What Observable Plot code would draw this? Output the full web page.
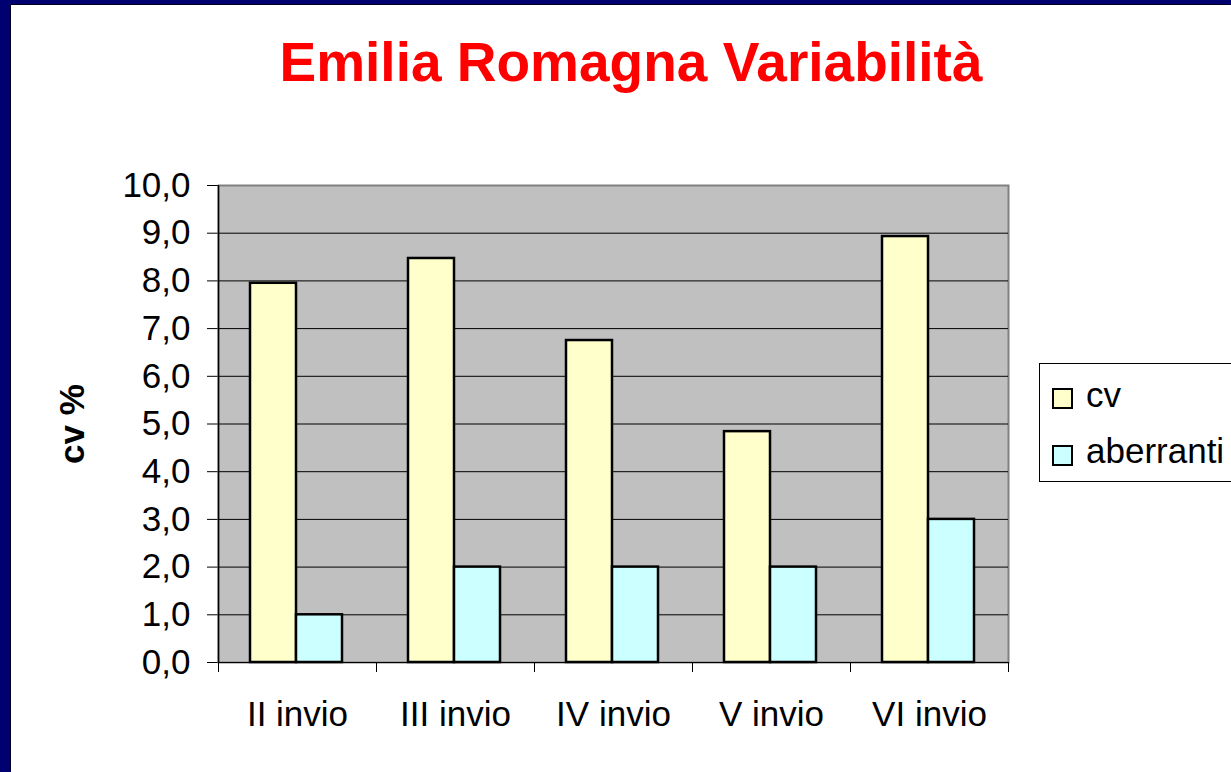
<!DOCTYPE html>
<html>
<head>
<meta charset="utf-8">
<script src="https://cdn.jsdelivr.net/npm/d3@7"></script>
<script src="https://cdn.jsdelivr.net/npm/@observablehq/plot@0.6"></script>
<style>
  html, body { margin: 0; padding: 0; }
  body { width: 1231px; height: 772px; overflow: hidden; position: relative; background: #000070; font-family: "Liberation Sans", Arial, sans-serif; }
  #slide { position: absolute; left: 11px; top: 5px; width: 1220px; height: 767px; background: #fff; box-shadow: -1px -1px 0 #000022; }
  #title { position: absolute; left: 0; top: 35px; width: 1262px; text-align: center; font-size: 55px; line-height: 55px; font-weight: bold; color: #ff0000; white-space: nowrap; }
  #chart { position: absolute; left: 0; top: 0; }
  #chart svg { overflow: visible; }
  #chart [aria-label="y-axis label"] { font-weight: bold; }
  #legend { position: absolute; left: 1039px; top: 363px; width: 220px; height: 117px; border: 1px solid #000; background: #fff; }
  .sw { position: absolute; left: 12px; width: 17px; height: 17px; border: 2px solid #000; }
  .lt { position: absolute; left: 46px; font-size: 35px; line-height: 35px; color: #000; white-space: nowrap; }
</style>
</head>
<body>
<div id="slide"></div>
<div id="chart"></div>
<div id="title">Emilia Romagna Variabilità</div>
<div id="legend"></div>
<script>
// ---- data ----
const categories = ["II invio", "III invio", "IV invio", "V invio", "VI invio"];
const cvValues = [7.95, 8.47, 6.75, 4.84, 8.93];
const aberrantiValues = [1, 2, 2, 2, 3];
const seriesNames = ["cv", "aberranti"];
const seriesColors = ["#ffffcc", "#ccffff"];
const yTicks = [0, 1, 2, 3, 4, 5, 6, 7, 8, 9, 10];
const yLabel = "cv %";

// ---- layout ----
const W = 1231, H = 772;
const mL = 218, mR = 223, mT = 185, mB = 110;
const band = (W - mL - mR) / categories.length;
const gap = 32, barW = 46;

const rows = categories.map((c, i) => ({cat: c, cv: cvValues[i], aberranti: aberrantiValues[i]}));
const fmt = d => d.toFixed(1).replace(".", ",");

const chart = Plot.plot({
  width: W,
  height: H,
  marginLeft: mL,
  marginRight: mR,
  marginTop: mT,
  marginBottom: mB,
  style: {background: "transparent", fontFamily: "'Liberation Sans', Arial, sans-serif", fontSize: "35px", color: "#000", overflow: "visible"},
  x: {domain: categories, padding: 0, label: null, tickSize: 0, tickPadding: 39},
  y: {domain: [0, 10], ticks: yTicks, tickFormat: fmt, tickSize: 11, tickPadding: 17, label: yLabel, labelArrow: "none", labelAnchor: "center", labelOffset: 159},
  marks: [
    Plot.frame({fill: "#c0c0c0", stroke: "#808080", strokeWidth: 2}),
    Plot.ruleY(yTicks.filter(t => t > 0 && t < 10), {stroke: "#000", strokeWidth: 1}),
    Plot.barY(rows, {x: "cat", y: seriesNames[0], fill: seriesColors[0], stroke: "#000", strokeWidth: 2.5, insetLeft: gap, insetRight: band - gap - barW}),
    Plot.barY(rows, {x: "cat", y: seriesNames[1], fill: seriesColors[1], stroke: "#000", strokeWidth: 2.5, insetLeft: gap + barW, insetRight: band - gap - 2 * barW}),
    Plot.ruleY([0], {stroke: "#000", strokeWidth: 1}),
    Plot.ruleX([categories[0]], {y1: 0, y2: 10, dx: -band / 2, stroke: "#000", strokeWidth: 1.5}),
    Plot.ruleX(categories, {y1: 0, y2: 0, insetBottom: -10, dx: -band / 2, stroke: "#000", strokeWidth: 1}),
    Plot.ruleX([categories[categories.length - 1]], {y1: 0, y2: 0, insetBottom: -10, dx: band / 2, stroke: "#000", strokeWidth: 1})
  ]
});
document.getElementById("chart").appendChild(chart);

// ---- legend ----
const legend = document.getElementById("legend");
const swTops = [24, 81], txtTops = [13, 69];
seriesNames.forEach((name, i) => {
  const sw = document.createElement("div");
  sw.className = "sw";
  sw.style.top = swTops[i] + "px";
  sw.style.background = seriesColors[i];
  legend.appendChild(sw);
  const t = document.createElement("div");
  t.className = "lt";
  t.style.top = txtTops[i] + "px";
  t.textContent = name;
  legend.appendChild(t);
});
</script>
</body>
</html>
